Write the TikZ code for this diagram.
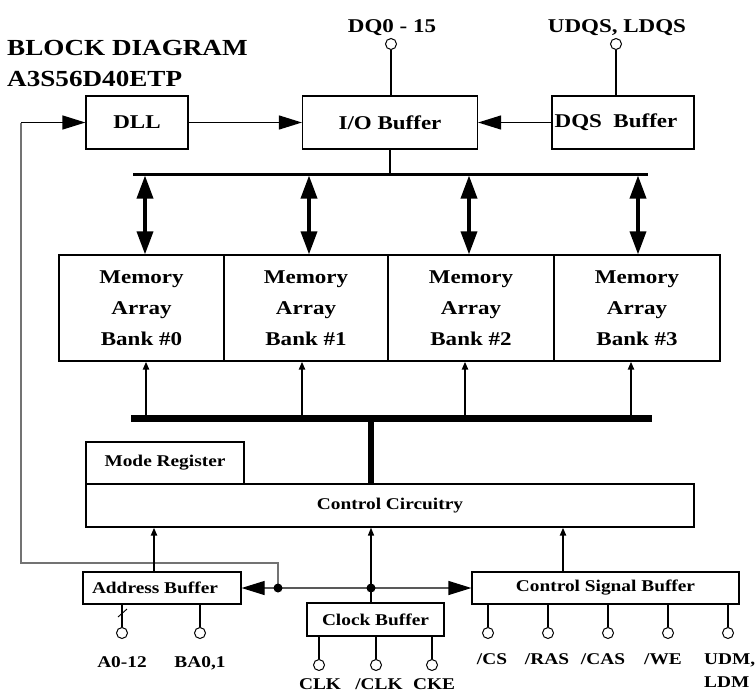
\documentclass[tikz,border=0pt]{standalone}
\usepackage{fontspec}
\setmainfont{Liberation Serif}[FakeStretch=1.18]
\usetikzlibrary{arrows.meta}
\begin{document}
\begin{tikzpicture}[x=1pt,y=-1pt,
  box/.style={draw, line width=1.2pt, inner sep=0pt, font=\fontsize{16.4}{19}\selectfont\bfseries},
  bigbox/.style={box, font=\fontsize{19.5}{23}\selectfont\bfseries},
  bank/.style={box, align=center, font=\fontsize{19.5}{31}\selectfont\bfseries, minimum height=106pt},
  pin/.style={circle, draw, line width=1pt, fill=white, minimum size=11pt, inner sep=0pt},
  lbl/.style={inner sep=0pt, anchor=base, font=\fontsize{16.4}{19}\selectfont\bfseries},
  toplbl/.style={inner sep=0pt, anchor=base, font=\fontsize{19.5}{23}\selectfont\bfseries},
  titl/.style={inner sep=0pt, anchor=base west, font=\fontsize{23}{27}\selectfont\bfseries},
  wire/.style={line width=1.3pt},
  sig/.style={line width=1.3pt, -{Triangle[length=23pt,width=14pt]}},
  sig2/.style={line width=1.2pt, black!65, {Triangle[length=23pt,width=14pt,color=black]}-{Triangle[length=23pt,width=14pt,color=black]}},
  dbl/.style={line width=3.5pt, {Triangle[length=23pt,width=16pt]}-{Triangle[length=23pt,width=16pt]}},
  up/.style={line width=2.2pt, -{Triangle[length=8pt,width=6pt]}},
  upthin/.style={line width=1.4pt, -{Triangle[length=8pt,width=6pt]}},
  fbline/.style={line width=1.4pt, black!55}
]
\useasboundingbox (0,0) rectangle (755,694);

% title
\node[titl] (t1) at (7,55) {BLOCK DIAGRAM};
\node[titl] (t2) at (7,86) {A3S56D40ETP};

% top boxes
\node[bigbox, minimum width=102pt, minimum height=53pt] (dll) at (137,122.5) {DLL};
\node[bigbox, minimum width=175pt, minimum height=53pt] (io) at (390,122.5) {I/O Buffer};
\node[bigbox, minimum width=142pt, minimum height=53pt] (dqs) at (623,122.5) {\hspace*{-14pt}DQS\ \ Buffer};

% top pins
\node[pin] (dq) at (391,44) {};
\node[pin] (udqs) at (616,44) {};
\node[toplbl] (ldq) at (392,32) {DQ0 - 15};
\node[toplbl] (ludqs) at (617,32) {UDQS, LDQS};
\draw[wire, line width=2pt] (dq) -- (dq |- io.north);
\draw[wire, line width=2pt] (udqs) -- (udqs |- dqs.north);

% memory banks
\node[bank, minimum width=165pt] (m0) at (141.5,308) {Memory\\Array\\Bank \#0};
\node[bank, minimum width=164pt] (m1) at (306,308) {Memory\\Array\\Bank \#1};
\node[bank, minimum width=166pt] (m2) at (471,308) {Memory\\Array\\Bank \#2};
\node[bank, minimum width=166pt] (m3) at (637,308) {Memory\\Array\\Bank \#3};

% buses
\coordinate (tb1) at (133,174);
\coordinate (tb2) at (648,174);
\coordinate (bb1) at (131,418);
\coordinate (bb2) at (652,418);
\draw[line width=2pt] (io.south) -- (io.south |- tb1);
\draw[line width=3pt] (tb1) -- (tb2);
\draw[line width=7pt] (bb1) -- (bb2);

% double arrows
\draw[dbl] ([xshift=3.5pt]m0.north |- 0,175.5) -- ([xshift=3.5pt]m0.north);
\draw[dbl] ([xshift=3pt]m1.north |- 0,175.5) -- ([xshift=3pt]m1.north);
\draw[dbl] ([xshift=-2pt]m2.north |- 0,175.5) -- ([xshift=-2pt]m2.north);
\draw[dbl] ([xshift=1pt]m3.north |- 0,175.5) -- ([xshift=1pt]m3.north);

% up arrows into banks
\draw[up] ([xshift=4.5pt]m0.south |- bb1) -- ([xshift=4.5pt]m0.south);
\draw[up] ([xshift=-4pt]m1.south |- bb1) -- ([xshift=-4pt]m1.south);
\draw[up] ([xshift=-6pt]m2.south |- bb1) -- ([xshift=-6pt]m2.south);
\draw[up] ([xshift=-6pt]m3.south |- bb1) -- ([xshift=-6pt]m3.south);

% control section
\node[box, minimum width=158pt, minimum height=42pt] (mode) at (165,463) {Mode Register};
\node[box, minimum width=608pt, minimum height=43pt] (ctl) at (390,505.5) {Control Circuitry};
\coordinate (cv) at (371,418);
\draw[line width=6pt] (cv) -- (cv |- ctl.north);

\node[box, minimum width=158pt, minimum height=32pt] (addr) at (162,588) {\hspace*{-14pt}Address Buffer};
\node[box, minimum width=137pt, minimum height=33pt] (clk) at (375.5,619.5) {Clock Buffer};
\node[box, minimum width=267pt, minimum height=32pt] (csb) at (605.5,588) {Control Signal Buffer};

\coordinate (d1) at (278,588);
\coordinate (d2) at (371,588);
\coordinate (fbB) at (21,563);
\coordinate (fbT) at (21,122.5);

% feedback to DLL
\draw[fbline] (d1) |- (fbB) -- (fbT);
\draw[sig] (fbT) -- (dll.west);
\draw[sig] (dll.east) -- (io.west);
\draw[sig] (dqs.west) -- (io.east);

% horizontal distribution line
\draw[sig2] (addr.east) -- (csb.west);
\fill (d1) circle[radius=4.5pt];
\fill (d2) circle[radius=4.5pt];

% arrows into control circuitry
\draw[up, line width=2.6pt] ([xshift=-8pt]addr.north) -- ([xshift=-8pt]addr.north |- ctl.south);
\draw[upthin] (d2 |- clk.north) -- (d2 |- ctl.south);
\draw[up, line width=2.6pt] ([xshift=-42.5pt]csb.north) -- ([xshift=-42.5pt]csb.north |- ctl.south);

% address pins
\node[pin] (pA) at (122,633) {};
\node[pin] (pBA) at (200,633) {};
\draw[wire] (pA) -- (pA |- addr.south);
\draw[wire] (pBA) -- (pBA |- addr.south);
\draw[line width=0.9pt] (118,617) -- (127,609);
\node[lbl] (lA) at (122,667) {A0-12};
\node[lbl] (lBA) at (200,667) {BA0,1};

% clock pins
\node[pin] (pclk) at (319,665) {};
\node[pin] (pnclk) at (376,665) {};
\node[pin] (pcke) at (432,665) {};
\draw[wire] (pclk) -- (pclk |- clk.south);
\draw[wire] (pnclk) -- (pnclk |- clk.south);
\draw[wire] (pcke) -- (pcke |- clk.south);
\node[lbl] (lclk) at (320,689.5) {CLK};
\node[lbl] (lnclk) at (379,689.5) {/CLK};
\node[lbl] (lcke) at (434,689.5) {CKE};

% control signal pins
\node[pin] (pcs) at (488,633) {};
\node[pin] (pras) at (548,633) {};
\node[pin] (pcas) at (608,633) {};
\node[pin] (pwe) at (668,633) {};
\node[pin] (pudm) at (728,633) {};
\foreach \p in {pcs,pras,pcas,pwe,pudm} \draw[wire] (\p) -- (\p |- csb.south);
\node[lbl] (lcs) at (492,664) {/CS};
\node[lbl] (lras) at (547,664) {/RAS};
\node[lbl] (lcas) at (603,664) {/CAS};
\node[lbl] (lwe) at (663,664) {/WE};
\node[lbl, anchor=base west] (ludm) at (704,664) {UDM,};
\node[lbl, anchor=base west] (lldm) at (704,687) {LDM};
\end{tikzpicture}
\end{document}
